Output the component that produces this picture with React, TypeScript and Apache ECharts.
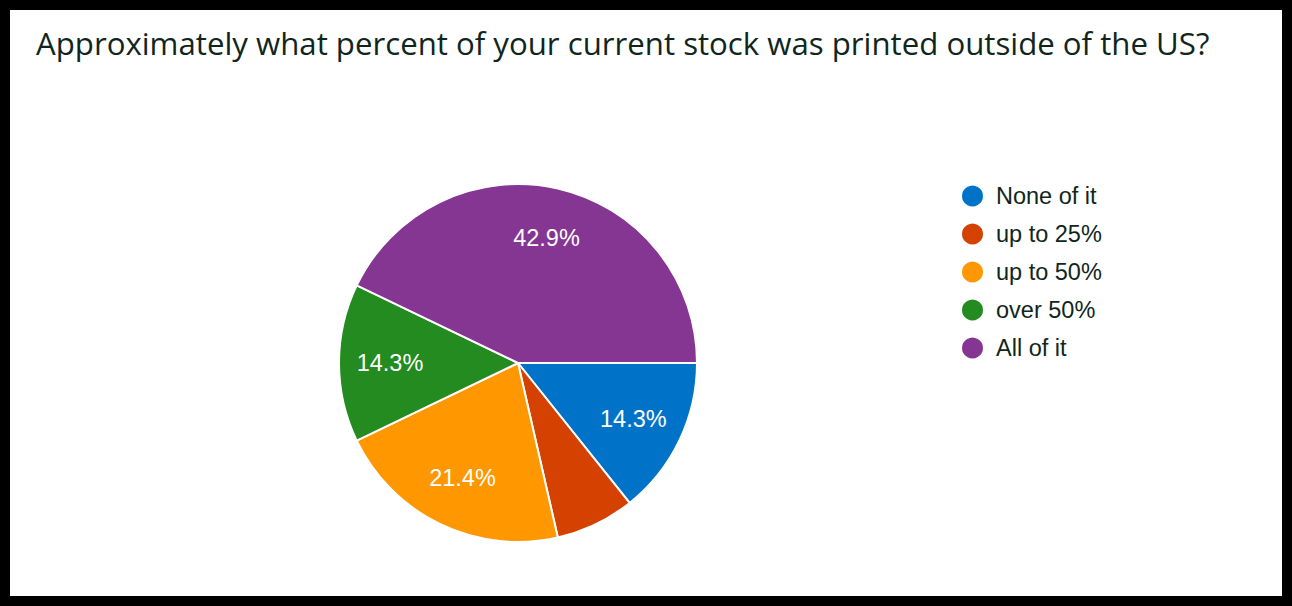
import React, { useEffect, useRef } from "react";
import * as echarts from "echarts";

const titleText = "Approximately what percent of your current stock was printed outside of the US?";
const categories = ["None of it", "up to 25%", "up to 50%", "over 50%", "All of it"];
const counts = [2, 1, 3, 2, 6];
const colors = ["#0073c9", "#d54100", "#fe9700", "#238b1f", "#843692"];
const hiddenLabels = ["up to 25%"];

export default function App() {
  const ref = useRef<HTMLDivElement>(null);
  useEffect(() => {
    if (!ref.current) return;
    const chart = echarts.init(ref.current, null, { renderer: "svg" });
    const data = categories.map((name, i) => ({ name, value: counts[i], itemStyle: { color: colors[i] } }));
    const labelData = categories.map((name, i) => ({
      name,
      value: counts[i],
      label: { show: !hiddenLabels.includes(name) },
    }));
    chart.setOption({
      animation: false,
      backgroundColor: "#ffffff",
      graphic: [
        {
          type: "rect",
          shape: { x: 5, y: 5, width: 1282, height: 596 },
          style: { fill: "none", stroke: "#000000", lineWidth: 10 },
          z: 100,
        },
        {
          type: "text",
          x: 36,
          y: 43,
          style: {
            text: titleText,
            font: '400 31.2px "Open Sans"',
            fill: "#10261c",
            textVerticalAlign: "middle",
          },
        },
      ],
      legend: {
        orient: "vertical",
        left: 955,
        top: 178.5,
        icon: "circle",
        itemWidth: 37,
        itemHeight: 23,
        itemGap: 13,
        data: categories,
        textStyle: {
          fontFamily: "Liberation Sans",
          fontSize: 23.5,
          lineHeight: 23,
          color: "#10261c",
          padding: [0, 0, 0, 0],
        },
        selectedMode: false,
      },
      series: [
        {
          type: "pie",
          center: [518, 363],
          radius: [0, 179],
          startAngle: 0,
          clockwise: true,
          label: { show: false },
          labelLine: { show: false },
          itemStyle: { borderColor: "#ffffff", borderWidth: 2 },
          emphasis: { disabled: true },
          data,
        },
        {
          type: "pie",
          center: [518, 363],
          radius: [0, 250],
          startAngle: 0,
          clockwise: true,
          silent: true,
          z: 5,
          itemStyle: { color: "rgba(0,0,0,0)", borderWidth: 0 },
          labelLine: { show: false },
          label: {
            position: "inside",
            color: "#ffffff",
            fontFamily: "Liberation Sans",
            fontSize: 23.5,
            formatter: (p: any) => p.percent.toFixed(1) + "%",
          },
          emphasis: { disabled: true },
          data: labelData,
        },
      ],
    });
    return () => chart.dispose();
  }, []);
  return (
    <div
      ref={ref}
      style={{ position: "fixed", left: 0, top: 0, width: 1292, height: 606 }}
    />
  );
}
